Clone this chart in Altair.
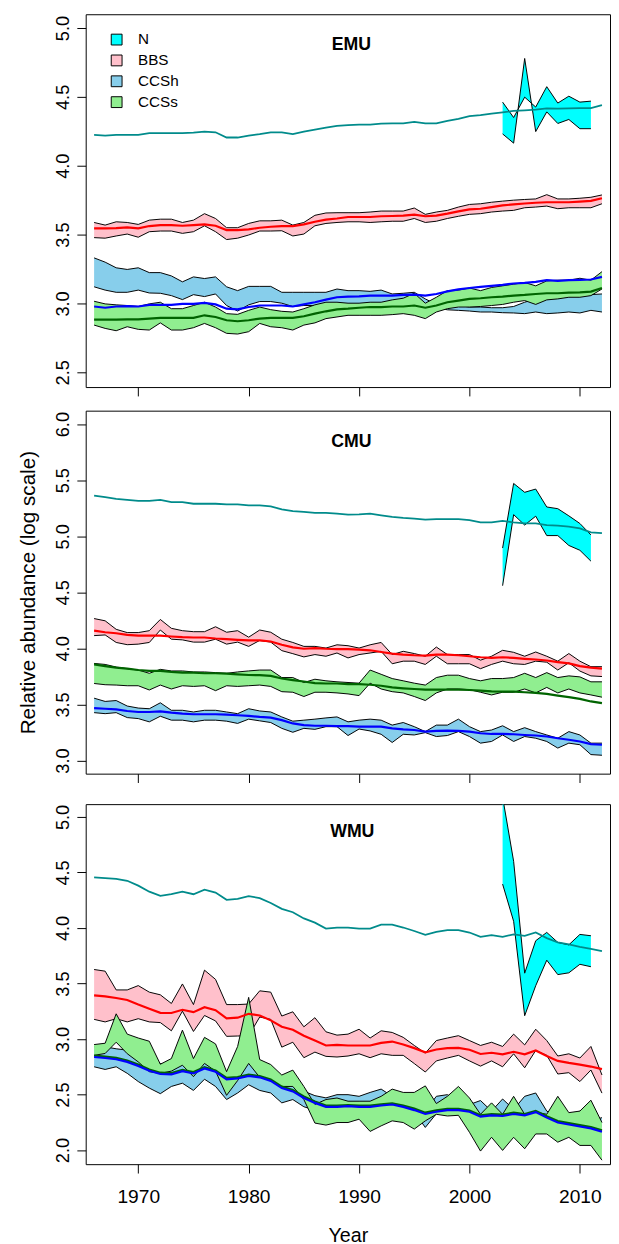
import altair as alt
import pandas as pd

YEARS = list(range(1966, 2013))
N_YEARS = list(range(2003, 2012))
SERIES = ["N", "BBS", "CCSh", "CCSs"]
BAND_COLORS = ["#00FFFF", "#FFC0CB", "#87CEEB", "#90EE90"]
TREND_COLORS = {"N": "#008B8B", "BBS": "#FF0000", "CCSh": "#0000FF", "CCSs": "#006400"}
X_TICKS = [1970, 1980, 1990, 2000, 2010]
X_DOMAIN = [1965.24, 2012.73]
FONT = "Liberation Sans"

# ---------------- EMU ----------------
emu_n_trend = [4.224, 4.219, 4.224, 4.224, 4.224, 4.236, 4.236, 4.236, 4.236, 4.240,
               4.248, 4.243, 4.205, 4.205, 4.219, 4.229, 4.243, 4.243, 4.229, 4.248,
               4.262, 4.276, 4.290, 4.295, 4.298, 4.298, 4.305, 4.307, 4.307, 4.319,
               4.307, 4.307, 4.326, 4.340, 4.360, 4.367, 4.379, 4.388, 4.398, 4.402,
               4.407, 4.417, 4.414, 4.417, 4.419, 4.419, 4.440]
emu_n_hi = [4.462, 4.350, 4.498, 4.426, 4.574, 4.455, 4.505, 4.462, 4.469]
emu_n_lo = [4.231, 4.164, 4.779, 4.248, 4.391, 4.307, 4.336, 4.269, 4.269]

emu_bbs_trend = [3.545, 3.545, 3.547, 3.552, 3.545, 3.562, 3.569, 3.569, 3.564, 3.569,
                 3.574, 3.564, 3.533, 3.533, 3.538, 3.550, 3.557, 3.562, 3.562, 3.574,
                 3.593, 3.609, 3.617, 3.628, 3.628, 3.628, 3.633, 3.635, 3.638, 3.645,
                 3.633, 3.638, 3.652, 3.669, 3.683, 3.688, 3.700, 3.712, 3.719, 3.726,
                 3.731, 3.735, 3.735, 3.735, 3.740, 3.745, 3.764]
emu_bbs_hi = [3.588, 3.569, 3.593, 3.588, 3.574, 3.605, 3.612, 3.612, 3.588, 3.605,
              3.652, 3.617, 3.550, 3.550, 3.581, 3.600, 3.600, 3.605, 3.569, 3.588,
              3.640, 3.657, 3.659, 3.659, 3.659, 3.664, 3.671, 3.671, 3.671, 3.693,
              3.647, 3.664, 3.676, 3.700, 3.719, 3.724, 3.735, 3.743, 3.750, 3.755,
              3.759, 3.790, 3.759, 3.759, 3.764, 3.771, 3.788]
emu_bbs_lo = [3.478, 3.474, 3.490, 3.504, 3.481, 3.521, 3.526, 3.526, 3.509, 3.521,
              3.564, 3.521, 3.464, 3.474, 3.497, 3.526, 3.526, 3.528, 3.490, 3.504,
              3.564, 3.581, 3.588, 3.593, 3.593, 3.588, 3.593, 3.597, 3.597, 3.617,
              3.588, 3.597, 3.617, 3.633, 3.647, 3.652, 3.664, 3.671, 3.676, 3.695,
              3.700, 3.707, 3.688, 3.695, 3.695, 3.695, 3.724]

emu_ccsh_trend = [2.978, 2.969, 2.978, 2.981, 2.978, 2.990, 2.990, 2.990, 2.997, 2.997,
                  3.004, 2.993, 2.962, 2.957, 2.974, 2.985, 2.985, 2.985, 2.978, 2.993,
                  3.009, 3.028, 3.045, 3.050, 3.052, 3.057, 3.057, 3.057, 3.062, 3.064,
                  3.057, 3.069, 3.088, 3.102, 3.112, 3.121, 3.128, 3.135, 3.145, 3.150,
                  3.157, 3.169, 3.164, 3.169, 3.171, 3.174, 3.193]
emu_ccsh_hi = [3.331, 3.300, 3.259, 3.247, 3.259, 3.224, 3.224, 3.200, 3.157, 3.193,
               3.181, 3.193, 3.121, 3.093, 3.124, 3.124, 3.124, 3.081, 3.081, 3.081,
               3.081, 3.081, 3.105, 3.093, 3.093, 3.088, 3.097, 3.069, 3.074, 3.081,
               3.033, 2.993, 2.985, 2.985, 2.974, 2.974, 2.969, 2.969, 2.978, 3.009,
               3.033, 3.038, 3.038, 3.050, 3.057, 3.064, 3.069]
emu_ccsh_lo = [3.121, 3.097, 3.081, 3.081, 3.097, 3.076, 3.074, 3.057, 3.028, 3.064,
               3.050, 3.069, 2.985, 2.945, 2.990, 3.014, 3.014, 3.002, 2.978, 2.985,
               2.985, 2.993, 2.993, 2.990, 2.990, 2.990, 2.990, 2.985, 2.985, 2.990,
               2.978, 2.969, 2.954, 2.950, 2.945, 2.938, 2.938, 2.933, 2.931, 2.926,
               2.938, 2.926, 2.931, 2.938, 2.931, 2.950, 2.938]

emu_ccss_trend = [2.883, 2.883, 2.883, 2.885, 2.885, 2.890, 2.895, 2.895, 2.895, 2.895,
                  2.914, 2.902, 2.878, 2.871, 2.878, 2.890, 2.895, 2.895, 2.895, 2.907,
                  2.926, 2.943, 2.957, 2.962, 2.969, 2.974, 2.974, 2.978, 2.978, 2.985,
                  2.969, 2.985, 3.009, 3.021, 3.033, 3.038, 3.045, 3.050, 3.057, 3.062,
                  3.069, 3.074, 3.074, 3.079, 3.081, 3.086, 3.112]
emu_ccss_hi = [3.016, 2.997, 2.990, 2.985, 2.978, 2.997, 3.009, 2.962, 2.962, 2.985,
               3.009, 2.974, 2.926, 2.921, 2.950, 2.974, 2.955, 2.943, 2.938, 2.962,
               2.990, 3.009, 3.009, 3.002, 3.002, 3.009, 3.009, 3.026, 3.038, 3.074,
               3.002, 3.045, 3.093, 3.097, 3.112, 3.093, 3.116, 3.128, 3.140, 3.152,
               3.128, 3.164, 3.169, 3.169, 3.183, 3.169, 3.231]
emu_ccss_lo = [2.843, 2.819, 2.802, 2.831, 2.812, 2.807, 2.859, 2.807, 2.807, 2.824,
               2.855, 2.824, 2.783, 2.778, 2.795, 2.855, 2.831, 2.824, 2.807, 2.843,
               2.859, 2.890, 2.902, 2.914, 2.914, 2.914, 2.914, 2.919, 2.926, 2.914,
               2.890, 2.938, 2.962, 2.974, 2.974, 2.978, 2.985, 2.993, 3.009, 3.021,
               2.993, 3.026, 3.033, 3.045, 3.045, 3.057, 3.105]

# ---------------- CMU ----------------
cmu_n_trend = [5.363, 5.348, 5.334, 5.325, 5.316, 5.316, 5.325, 5.304, 5.304, 5.290,
               5.290, 5.290, 5.284, 5.284, 5.275, 5.275, 5.266, 5.240, 5.225, 5.217,
               5.208, 5.208, 5.202, 5.193, 5.196, 5.202, 5.187, 5.173, 5.164, 5.158,
               5.149, 5.152, 5.152, 5.152, 5.144, 5.123, 5.123, 5.138, 5.123, 5.114,
               5.114, 5.100, 5.094, 5.085, 5.071, 5.035, 5.027]
cmu_n_hi = [4.895, 5.471, 5.392, 5.421, 5.261, 5.246, 5.182, 5.114, 5.012]
cmu_n_lo = [4.559, 5.193, 5.100, 5.179, 5.006, 5.006, 4.918, 4.875, 4.778]

cmu_bbs_trend = [4.158, 4.144, 4.135, 4.120, 4.114, 4.114, 4.114, 4.106, 4.100, 4.097,
                 4.097, 4.088, 4.082, 4.076, 4.071, 4.071, 4.062, 4.033, 4.009, 3.997,
                 4.003, 3.997, 3.994, 3.994, 3.989, 3.983, 3.968, 3.954, 3.945, 3.939,
                 3.936, 3.945, 3.945, 3.939, 3.930, 3.921, 3.915, 3.921, 3.915, 3.907,
                 3.901, 3.892, 3.878, 3.866, 3.842, 3.828, 3.819]
cmu_bbs_hi = [4.266, 4.246, 4.170, 4.141, 4.141, 4.158, 4.258, 4.179, 4.158, 4.149,
              4.149, 4.193, 4.144, 4.158, 4.100, 4.164, 4.144, 4.082, 4.053, 4.018,
              4.018, 4.003, 4.032, 4.024, 4.003, 4.032, 4.053, 3.945, 3.974, 3.954,
              3.930, 4.012, 3.945, 3.945, 3.945, 3.895, 3.930, 3.983, 3.965, 3.930,
              3.968, 3.930, 3.886, 3.954, 3.886, 3.837, 3.837]
cmu_bbs_lo = [4.114, 4.120, 4.053, 4.033, 4.038, 4.053, 4.164, 4.082, 4.076, 4.056,
              4.056, 4.082, 4.038, 4.056, 4.018, 4.071, 4.056, 3.980, 3.953, 3.924,
              3.945, 3.930, 3.959, 3.915, 3.945, 3.959, 3.974, 3.863, 3.886, 3.886,
              3.857, 3.930, 3.863, 3.863, 3.863, 3.819, 3.857, 3.886, 3.863, 3.857,
              3.886, 3.877, 3.807, 3.872, 3.798, 3.755, 3.749]

cmu_ccsh_trend = [3.468, 3.462, 3.456, 3.442, 3.433, 3.433, 3.439, 3.427, 3.418, 3.413,
                  3.413, 3.413, 3.410, 3.404, 3.398, 3.389, 3.383, 3.360, 3.331, 3.316,
                  3.310, 3.310, 3.307, 3.307, 3.302, 3.302, 3.302, 3.287, 3.278, 3.272,
                  3.258, 3.264, 3.266, 3.264, 3.258, 3.243, 3.237, 3.237, 3.234, 3.228,
                  3.223, 3.214, 3.199, 3.185, 3.170, 3.146, 3.141]
cmu_ccsh_hi = [3.556, 3.527, 3.535, 3.486, 3.468, 3.462, 3.515, 3.448, 3.448, 3.433,
               3.448, 3.448, 3.433, 3.418, 3.462, 3.442, 3.433, 3.389, 3.351, 3.360,
               3.369, 3.380, 3.389, 3.345, 3.360, 3.369, 3.360, 3.316, 3.339, 3.302,
               3.258, 3.316, 3.316, 3.369, 3.302, 3.258, 3.272, 3.310, 3.258, 3.293,
               3.258, 3.228, 3.199, 3.258, 3.228, 3.155, 3.155]
cmu_ccsh_lo = [3.427, 3.418, 3.427, 3.383, 3.374, 3.345, 3.395, 3.360, 3.360, 3.345,
               3.360, 3.360, 3.351, 3.331, 3.369, 3.354, 3.339, 3.287, 3.252, 3.287,
               3.278, 3.302, 3.302, 3.223, 3.281, 3.264, 3.234, 3.161, 3.234, 3.228,
               3.249, 3.214, 3.223, 3.258, 3.214, 3.155, 3.170, 3.228, 3.170, 3.214,
               3.199, 3.170, 3.111, 3.155, 3.141, 3.053, 3.047]

cmu_ccss_trend = [3.857, 3.842, 3.828, 3.819, 3.807, 3.799, 3.799, 3.790, 3.784, 3.784,
                  3.778, 3.778, 3.775, 3.769, 3.763, 3.761, 3.755, 3.731, 3.717, 3.705,
                  3.690, 3.687, 3.687, 3.682, 3.682, 3.676, 3.667, 3.652, 3.644, 3.638,
                  3.632, 3.632, 3.632, 3.632, 3.629, 3.623, 3.617, 3.614, 3.614, 3.609,
                  3.603, 3.594, 3.579, 3.565, 3.550, 3.527, 3.512]
cmu_ccss_hi = [3.866, 3.857, 3.834, 3.819, 3.807, 3.778, 3.813, 3.799, 3.799, 3.790,
               3.790, 3.784, 3.778, 3.790, 3.799, 3.807, 3.807, 3.740, 3.740, 3.696,
               3.725, 3.711, 3.702, 3.696, 3.690, 3.807, 3.769, 3.731, 3.711, 3.690,
               3.673, 3.740, 3.761, 3.761, 3.731, 3.711, 3.731, 3.731, 3.740, 3.778,
               3.740, 3.784, 3.740, 3.755, 3.746, 3.702, 3.702]
cmu_ccss_lo = [3.687, 3.676, 3.673, 3.667, 3.667, 3.629, 3.673, 3.638, 3.667, 3.661,
               3.667, 3.623, 3.667, 3.661, 3.667, 3.673, 3.661, 3.614, 3.609, 3.571,
               3.609, 3.609, 3.603, 3.594, 3.579, 3.690, 3.638, 3.614, 3.603, 3.571,
               3.535, 3.603, 3.638, 3.638, 3.632, 3.609, 3.585, 3.609, 3.609, 3.638,
               3.603, 3.652, 3.603, 3.638, 3.603, 3.585, 3.565]

# ---------------- WMU ----------------
wmu_n_trend = [4.455, 4.449, 4.442, 4.425, 4.381, 4.327, 4.289, 4.304, 4.327, 4.304,
               4.345, 4.319, 4.254, 4.263, 4.287, 4.269, 4.225, 4.172, 4.142, 4.086,
               4.048, 3.995, 4.004, 4.004, 3.995, 3.995, 4.030, 4.030, 4.004, 3.973,
               3.938, 3.965, 3.980, 3.980, 3.959, 3.920, 3.935, 3.920, 3.942, 3.929,
               3.959, 3.909, 3.871, 3.853, 3.829, 3.811, 3.791]
wmu_n_hi = [5.18, 4.60, 3.593, 3.885, 3.960, 3.870, 3.848, 3.942, 3.930]
wmu_n_lo = [4.395, 4.06, 3.21, 3.48, 3.710, 3.580, 3.596, 3.673, 3.651]

wmu_bbs_trend = [3.393, 3.384, 3.369, 3.351, 3.310, 3.272, 3.236, 3.234, 3.263, 3.242,
                 3.287, 3.260, 3.186, 3.192, 3.227, 3.212, 3.168, 3.110, 3.083, 3.030,
                 2.986, 2.942, 2.947, 2.942, 2.942, 2.942, 2.965, 2.977, 2.950, 2.918,
                 2.880, 2.906, 2.918, 2.920, 2.903, 2.865, 2.876, 2.862, 2.885, 2.862,
                 2.897, 2.847, 2.803, 2.785, 2.770, 2.752, 2.729]
wmu_bbs_hi = [3.626, 3.611, 3.442, 3.442, 3.481, 3.422, 3.398, 3.320, 3.496, 3.310,
              3.620, 3.537, 3.310, 3.310, 3.315, 3.434, 3.422, 3.207, 3.245, 3.110,
              3.192, 3.065, 3.035, 3.044, 3.088, 3.009, 3.074, 3.059, 3.015, 2.942,
              2.873, 2.986, 3.009, 3.030, 2.986, 2.942, 2.971, 2.933, 3.044, 2.947,
              3.088, 2.986, 2.847, 2.867, 2.829, 2.933, 2.676]
wmu_bbs_lo = [3.177, 3.154, 3.183, 3.154, 3.183, 3.154, 3.148, 3.074, 3.251, 3.068,
              3.212, 3.163, 3.024, 3.027, 3.030, 3.198, 3.177, 2.927, 2.971, 2.832,
              2.882, 2.844, 2.838, 2.847, 2.867, 2.832, 2.867, 2.853, 2.853, 2.779,
              2.703, 2.803, 2.829, 2.853, 2.803, 2.756, 2.803, 2.750, 2.867, 2.741,
              2.897, 2.853, 2.685, 2.697, 2.617, 2.721, 2.513]

wmu_ccsh_trend = [2.838, 2.829, 2.818, 2.794, 2.758, 2.714, 2.685, 2.681, 2.711, 2.690,
                  2.735, 2.705, 2.637, 2.646, 2.667, 2.655, 2.623, 2.558, 2.528, 2.469,
                  2.425, 2.389, 2.389, 2.395, 2.389, 2.389, 2.401, 2.410, 2.389, 2.360,
                  2.325, 2.345, 2.360, 2.360, 2.345, 2.301, 2.313, 2.307, 2.325, 2.313,
                  2.342, 2.292, 2.248, 2.230, 2.212, 2.195, 2.165]
wmu_ccsh_hi = [2.930, 2.930, 2.912, 2.900, 2.850, 2.800, 2.780, 2.760, 2.800, 2.770,
               2.810, 2.780, 2.700, 2.720, 2.785, 2.720, 2.690, 2.620, 2.600, 2.530,
               2.490, 2.470, 2.499, 2.499, 2.484, 2.519, 2.549, 2.484, 2.440, 2.410,
               2.351, 2.484, 2.499, 2.440, 2.410, 2.446, 2.351, 2.460, 2.366, 2.484,
               2.514, 2.351, 2.292, 2.278, 2.351, 2.263, 2.292]
wmu_ccsh_lo = [2.750, 2.726, 2.750, 2.691, 2.617, 2.558, 2.508, 2.573, 2.602, 2.537,
               2.638, 2.573, 2.455, 2.514, 2.588, 2.537, 2.514, 2.425, 2.455, 2.390,
               2.360, 2.370, 2.375, 2.381, 2.375, 2.375, 2.387, 2.396, 2.375, 2.342,
               2.204, 2.328, 2.342, 2.342, 2.328, 2.286, 2.298, 2.292, 2.307, 2.298,
               2.328, 2.278, 2.233, 2.216, 2.198, 2.180, 2.218]

wmu_ccss_trend = [2.852, 2.842, 2.830, 2.806, 2.770, 2.726, 2.697, 2.693, 2.722, 2.702,
                  2.746, 2.717, 2.650, 2.658, 2.679, 2.667, 2.636, 2.571, 2.541, 2.482,
                  2.437, 2.401, 2.401, 2.406, 2.401, 2.401, 2.412, 2.421, 2.401, 2.373,
                  2.337, 2.357, 2.372, 2.372, 2.357, 2.313, 2.325, 2.319, 2.337, 2.325,
                  2.353, 2.304, 2.261, 2.243, 2.225, 2.208, 2.178]
wmu_ccss_hi = [2.950, 2.962, 3.227, 3.044, 3.009, 2.980, 2.773, 2.824, 3.080, 2.824,
               3.015, 2.956, 2.706, 2.933, 3.375, 2.815, 2.770, 2.676, 2.720, 2.573,
               2.411, 2.455, 2.469, 2.440, 2.440, 2.440, 2.484, 2.549, 2.519, 2.519,
               2.578, 2.419, 2.484, 2.573, 2.469, 2.322, 2.425, 2.322, 2.484, 2.322,
               2.342, 2.322, 2.484, 2.337, 2.351, 2.449, 2.248]
wmu_ccss_lo = [2.853, 2.870, 2.971, 2.868, 2.794, 2.706, 2.691, 2.711, 2.764, 2.661,
               2.780, 2.711, 2.493, 2.626, 2.780, 2.655, 2.626, 2.573, 2.573, 2.455,
               2.243, 2.225, 2.248, 2.248, 2.278, 2.168, 2.218, 2.263, 2.248, 2.189,
               2.263, 2.322, 2.307, 2.313, 2.160, 1.991, 2.115, 1.997, 2.115, 2.012,
               2.145, 2.145, 2.071, 2.115, 2.042, 2.042, 1.909]


def bands_of(n_hi, n_lo, b_hi, b_lo, h_hi, h_lo, s_hi, s_lo):
    return {
        "N": pd.DataFrame({"year": N_YEARS, "hi": n_hi, "lo": n_lo, "series": "N"}),
        "BBS": pd.DataFrame({"year": YEARS, "hi": b_hi, "lo": b_lo, "series": "BBS"}),
        "CCSh": pd.DataFrame({"year": YEARS, "hi": h_hi, "lo": h_lo, "series": "CCSh"}),
        "CCSs": pd.DataFrame({"year": YEARS, "hi": s_hi, "lo": s_lo, "series": "CCSs"}),
    }


def trends_of(n, b, h, s):
    return {k: pd.DataFrame({"year": YEARS, "v": v}) for k, v in
            [("N", n), ("BBS", b), ("CCSh", h), ("CCSs", s)]}


def panel(label, bands, trends, y_domain, y_ticks, height, label_xy, legend, x_axis,
          y_title, title_pad):
    xscale = alt.Scale(domain=X_DOMAIN, nice=False, zero=False)
    yscale = alt.Scale(domain=y_domain, nice=False, zero=False)
    yaxis = alt.Axis(values=y_ticks, format=".1f", labelAngle=270, labelAlign="center",
                     labelBaseline="alphabetic", labelPadding=8, tickSize=9,
                     tickColor="black", domain=False, grid=False, labelFontSize=18.5,
                     labelColor="black", title=y_title, titleFontSize=21,
                     titleFontWeight="normal", titlePadding=title_pad,
                     titleColor="black")
    xenc = alt.X("year:Q", scale=xscale, axis=x_axis)
    fill_scale = alt.Scale(domain=SERIES, range=BAND_COLORS)
    layers = []
    for s in SERIES:
        base = alt.Chart(bands[s])
        layers.append(base.mark_area(clip=True, opacity=1).encode(
            x=xenc, y=alt.Y("hi:Q", scale=yscale, axis=yaxis), y2="lo:Q",
            fill=alt.Fill("series:N", scale=fill_scale, legend=legend)))
        for col in ["hi", "lo"]:
            layers.append(base.mark_line(clip=True, color="black", strokeWidth=1).encode(
                x=xenc, y=alt.Y(f"{col}:Q", scale=yscale, axis=yaxis)))
    widths = {"N": 1.8, "BBS": 2.2, "CCSs": 2.2, "CCSh": 2.2}
    for s in ["N", "BBS", "CCSs", "CCSh"]:
        layers.append(alt.Chart(trends[s]).mark_line(
            clip=True, color=TREND_COLORS[s], strokeWidth=widths[s]).encode(
            x=xenc, y=alt.Y("v:Q", scale=yscale, axis=yaxis)))
    layers.append(alt.Chart(pd.DataFrame({"t": [label]})).mark_text(
        font=FONT, fontSize=18, fontWeight="bold", align="center", baseline="middle",
        color="black").encode(x=alt.value(label_xy[0]), y=alt.value(label_xy[1]),
                              text="t:N"))
    return alt.layer(*layers).properties(width=533, height=height)


def x_axis_plain(**kw):
    return alt.Axis(values=X_TICKS, format="d", tickSize=9, tickColor="black",
                    domain=False, grid=False, **kw)


legend1 = alt.Legend(title=None, orient="none", legendX=23.7, legendY=18,
                     symbolType="square", symbolSize=121, symbolStrokeColor="black",
                     symbolStrokeWidth=1, labelFontSize=15.5, labelFont=FONT,
                     labelOffset=14, rowPadding=4.2, padding=0, labelColor="black")

p1 = panel("EMU",
           bands_of(emu_n_hi, emu_n_lo, emu_bbs_hi, emu_bbs_lo, emu_ccsh_hi, emu_ccsh_lo,
                    emu_ccss_hi, emu_ccss_lo),
           trends_of(emu_n_trend, emu_bbs_trend, emu_ccsh_trend, emu_ccss_trend),
           [2.393, 5.1], [2.5, 3.0, 3.5, 4.0, 4.5, 5.0], 379, (270, 31), legend1,
           x_axis_plain(labels=False, title=None), None, 16)

p2 = panel("CMU",
           bands_of(cmu_n_hi, cmu_n_lo, cmu_bbs_hi, cmu_bbs_lo, cmu_ccsh_hi, cmu_ccsh_lo,
                    cmu_ccss_hi, cmu_ccss_lo),
           trends_of(cmu_n_trend, cmu_bbs_trend, cmu_ccsh_trend, cmu_ccss_trend),
           [2.883, 6.12], [3.0, 3.5, 4.0, 4.5, 5.0, 5.5, 6.0], 369, (270, 32), None,
           x_axis_plain(labels=False, title=" ", titleFontSize=7, titlePadding=0),
           "Relative abundance (log scale)", 16)

p3 = panel("WMU",
           bands_of(wmu_n_hi, wmu_n_lo, wmu_bbs_hi, wmu_bbs_lo, wmu_ccsh_hi, wmu_ccsh_lo,
                    wmu_ccss_hi, wmu_ccss_lo),
           trends_of(wmu_n_trend, wmu_bbs_trend, wmu_ccsh_trend, wmu_ccss_trend),
           [1.873, 5.115], [2.0, 2.5, 3.0, 3.5, 4.0, 4.5, 5.0], 366, (271, 28), None,
           x_axis_plain(labelFontSize=19.5, labelPadding=15, labelColor="black",
                        title="Year", titleFontSize=20, titleFontWeight="normal",
                        titlePadding=20, titleColor="black"),
           None, 16)

chart = alt.vconcat(p1, p2, p3, spacing=13).resolve_scale(
    fill="independent", x="independent", y="independent"
).properties(
    padding={"left": 9, "top": -5, "right": 0, "bottom": 0}
).configure_view(
    stroke="black", strokeWidth=1
).configure_axis(
    labelFont=FONT, titleFont=FONT
)

chart.save("out.html", embed_options={"renderer": "svg", "actions": False})
